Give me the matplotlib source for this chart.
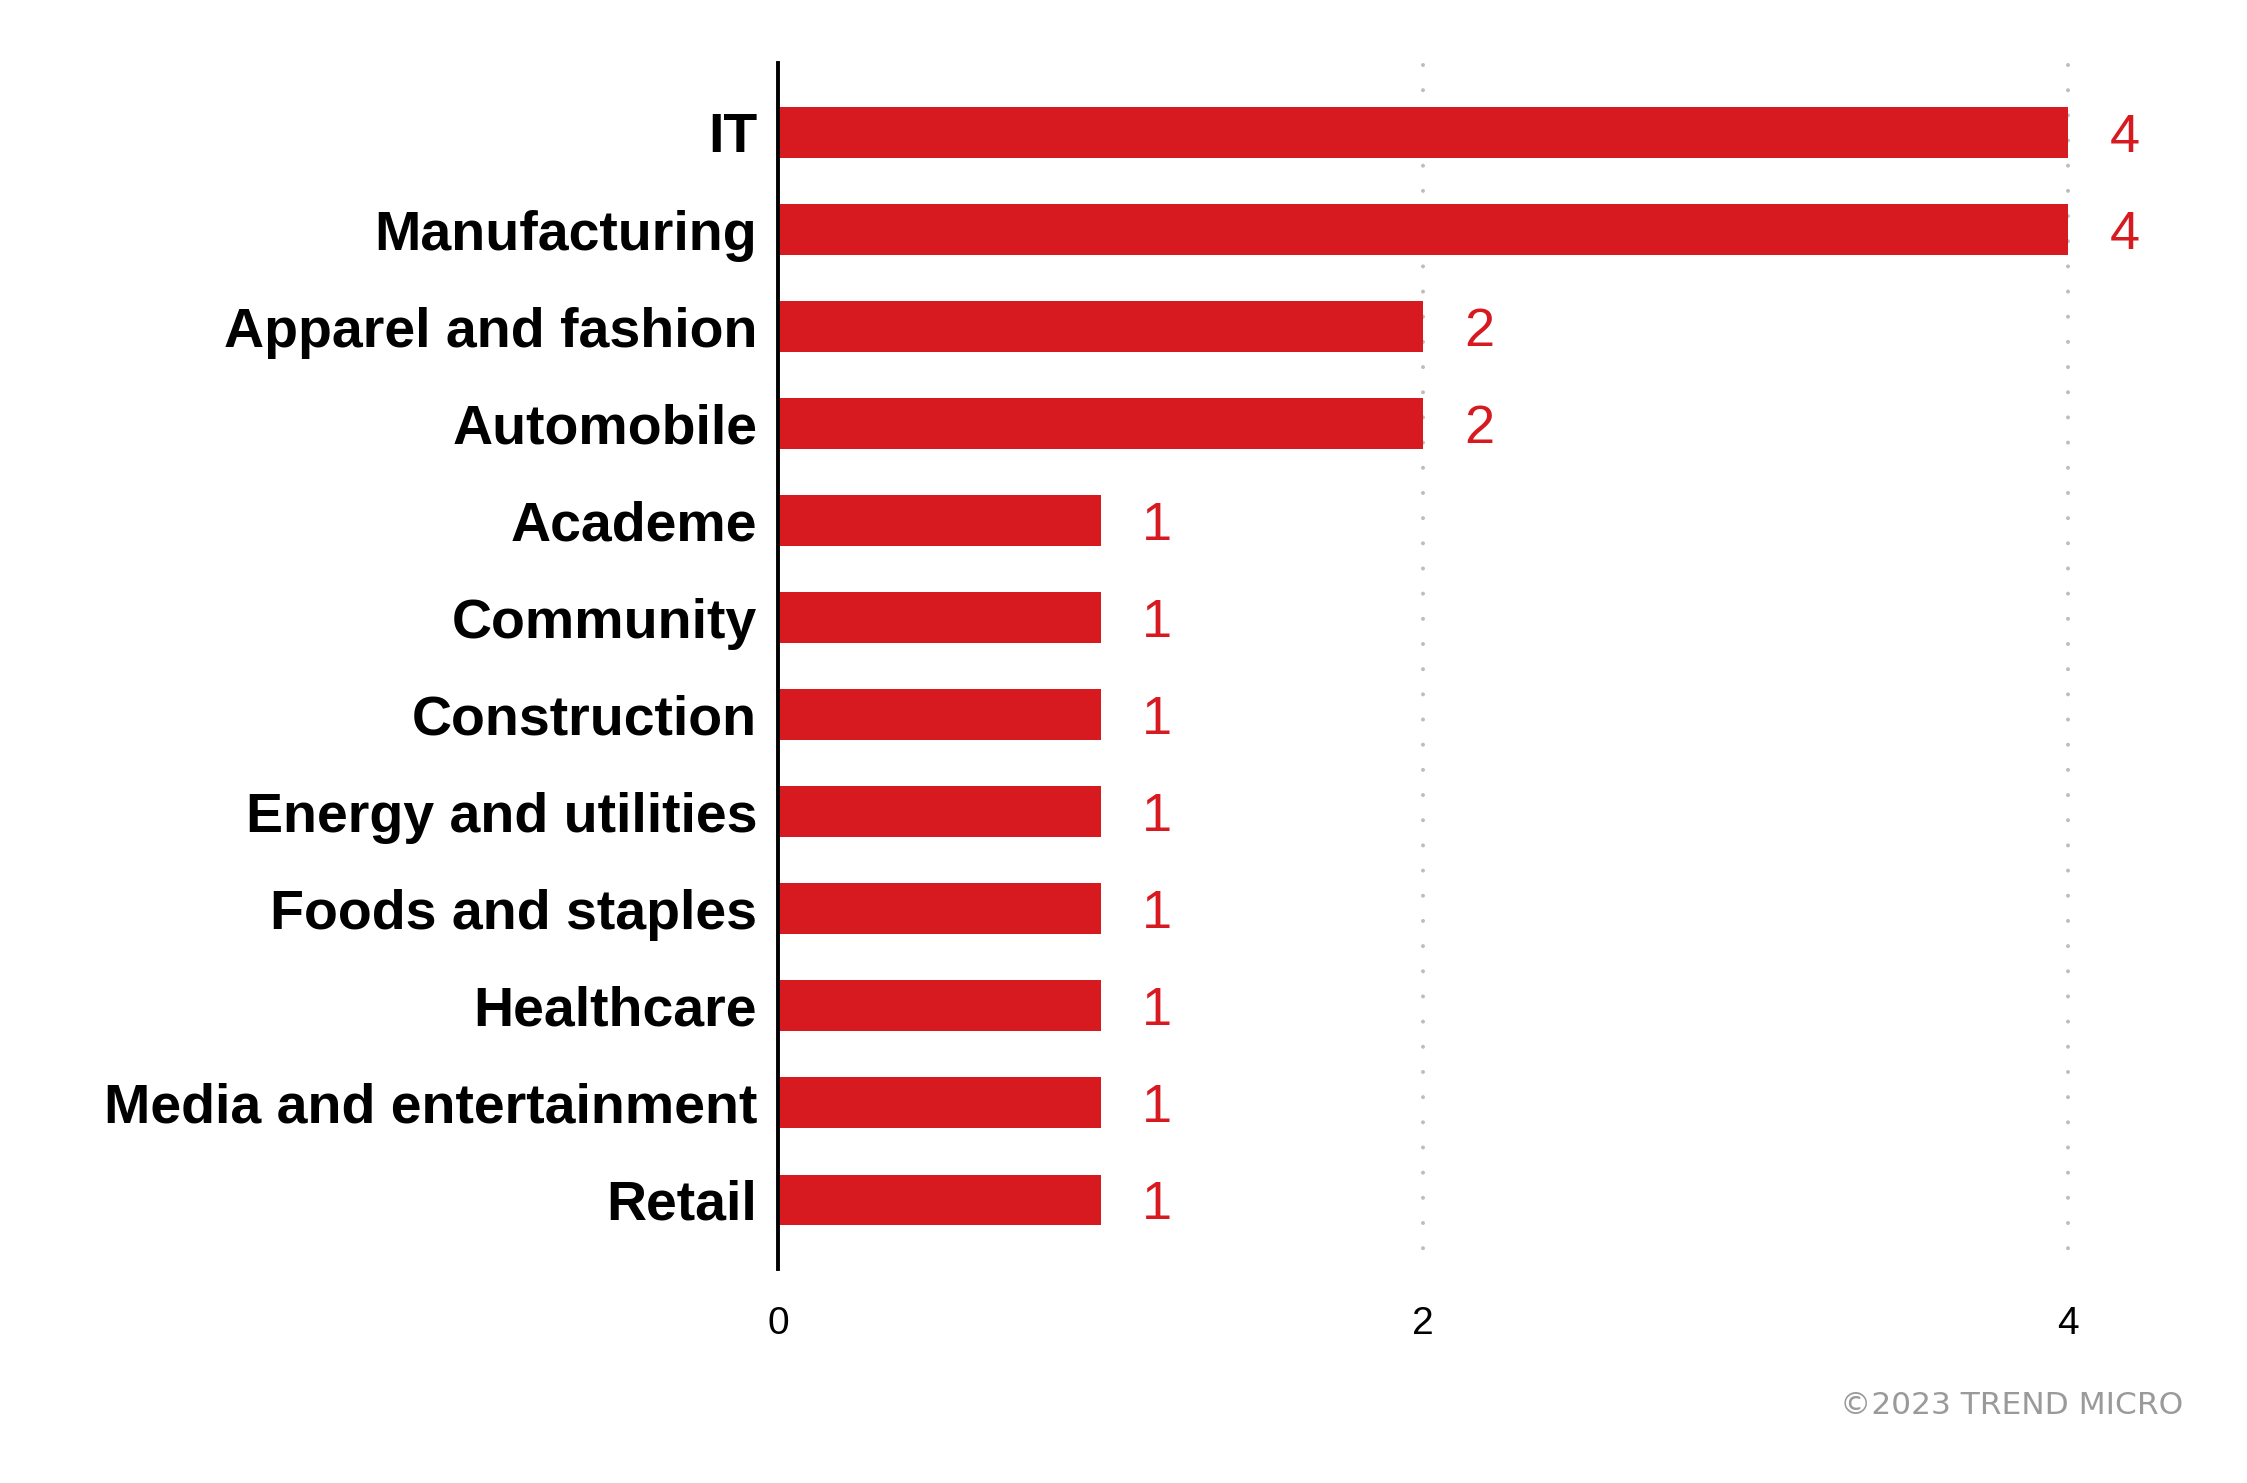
import matplotlib
matplotlib.use("Agg")
import matplotlib.pyplot as plt

categories = ["IT", "Manufacturing", "Apparel and fashion", "Automobile", "Academe",
              "Community", "Construction", "Energy and utilities", "Foods and staples",
              "Healthcare", "Media and entertainment", "Retail"]
values = [4, 4, 2, 2, 1, 1, 1, 1, 1, 1, 1, 1]
xticks = [0, 2, 4]
xtick_labels = ["0", "2", "4"]
credit = "\u00a92023 TREND MICRO"

RED = "#D71920"
W, H, DPI = 2247, 1483, 100
Y_TOP, Y_BOTTOM = -0.716, 11.711

fig = plt.figure(figsize=(W / DPI, H / DPI), dpi=DPI)
fig.patch.set_facecolor("white")
ax = fig.add_axes([778 / W, 1 - 1269 / H, 1290 / W, 1206 / H])

y = list(range(len(categories)))
ax.barh(y, values, height=0.525, color=RED, zorder=3)

ax.set_xlim(0, 4)
ax.set_ylim(Y_BOTTOM, Y_TOP)

for t in xticks:
    if t == 0:
        continue
    ax.plot([t, t], [Y_TOP + 0.02, Y_BOTTOM], color="#bdbdbd", lw=2.9,
            linestyle=(0, (0.0001, 6.25)), dash_capstyle="round",
            zorder=1, clip_on=False)

for s in ["top", "right", "bottom"]:
    ax.spines[s].set_visible(False)
ax.spines["left"].set_linewidth(2.8)
ax.spines["left"].set_color("black")
ax.spines["left"].set_zorder(5)

ax.set_yticks(y)
ax.set_yticklabels(categories, family=["Liberation Sans", "DejaVu Sans"],
                   fontweight="bold", fontsize=40, color="black")
ax.tick_params(axis="y", length=0, pad=15)

ax.set_xticks(xticks)
ax.set_xticklabels(xtick_labels, family=["Liberation Sans", "DejaVu Sans"],
                   fontsize=28, color="black")
ax.tick_params(axis="x", length=0, pad=27)

for yi, v in zip(y, values):
    ax.annotate(str(v), xy=(v, yi), xytext=(30, -14), textcoords="offset points",
                ha="left", va="baseline", fontsize=39, color=RED,
                family=["Liberation Sans", "DejaVu Sans"], fontweight="normal",
                annotation_clip=False)

fig.text(2183 / W, 1 - 1406 / H, credit, ha="right", va="center",
         fontsize=22.5, color="#9a9a9a", family=["DejaVu Sans"])

fig.savefig("out.png", dpi=DPI, facecolor="white")
